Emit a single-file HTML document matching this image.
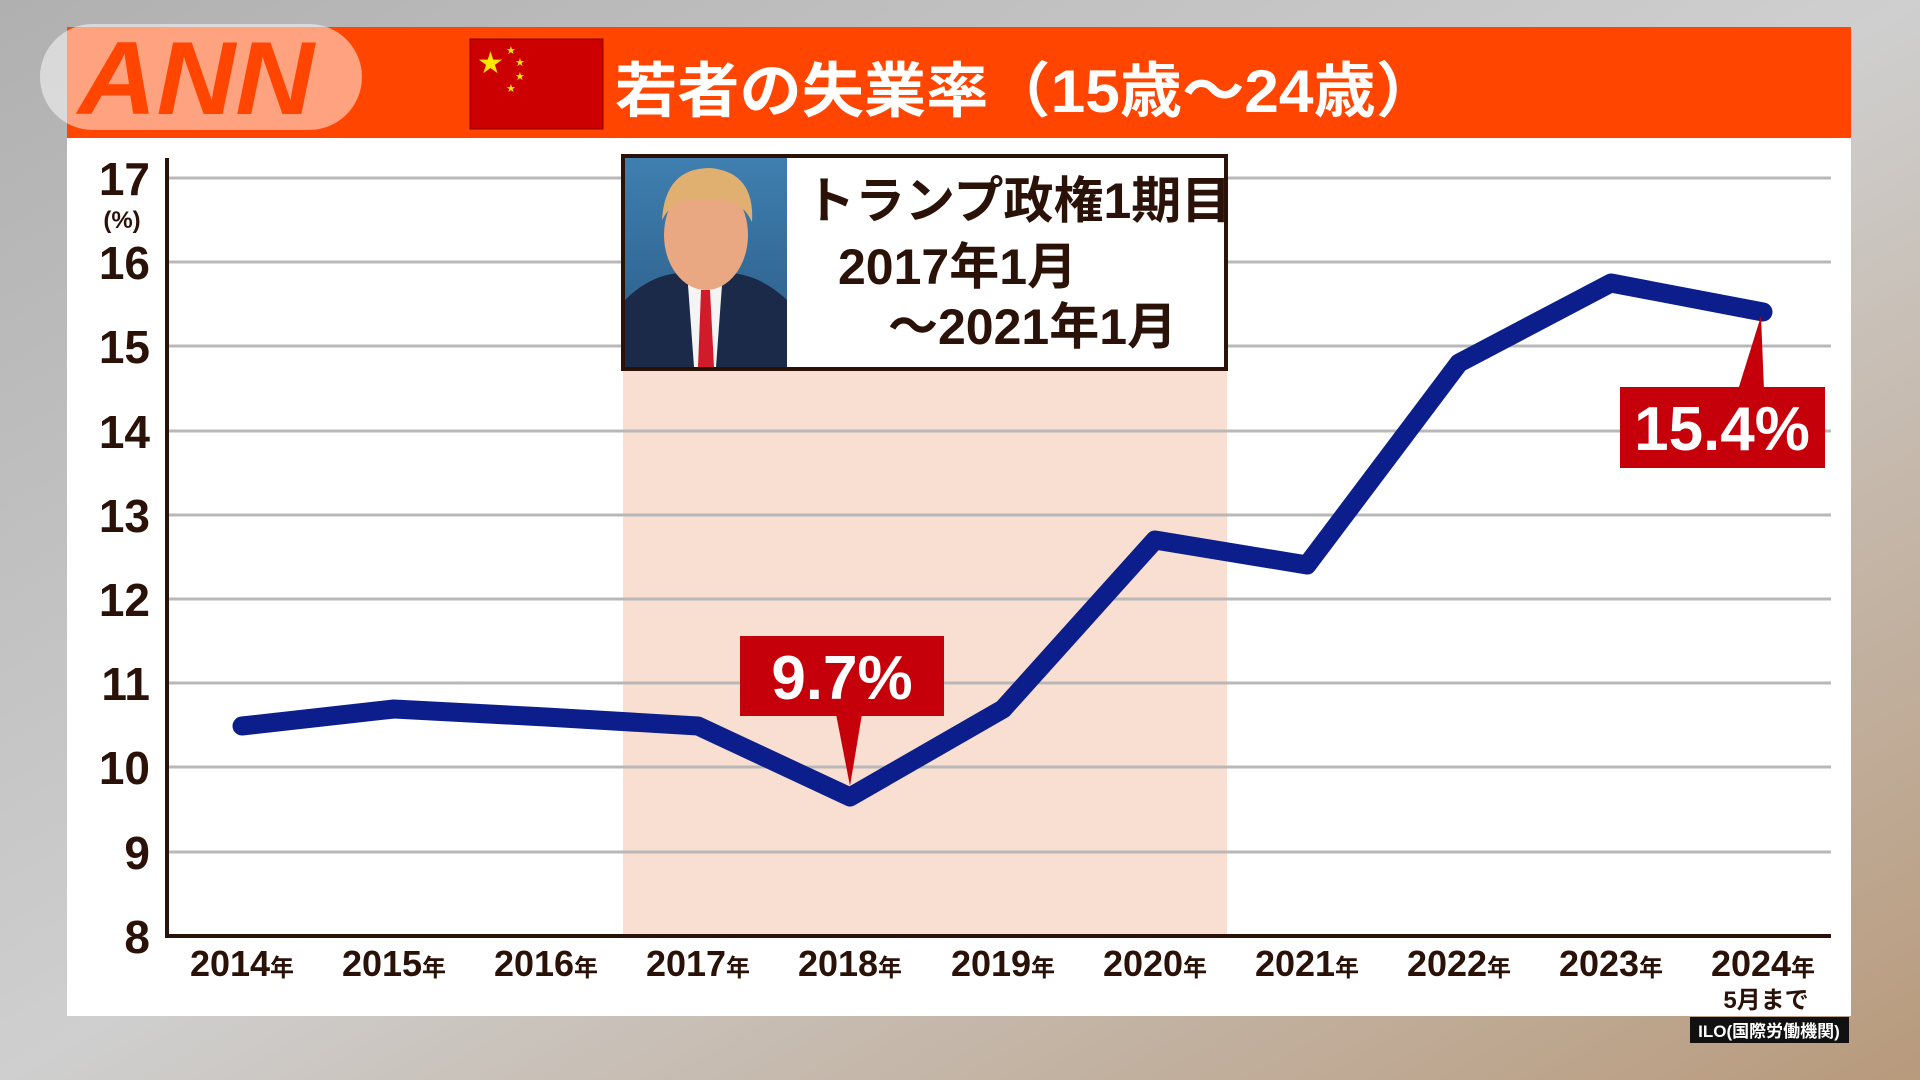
<!DOCTYPE html>
<html><head><meta charset="utf-8"><style>
html,body{margin:0;padding:0;width:1920px;height:1080px;overflow:hidden;background:#c9c9c9;}
svg{display:block}
text{font-family:"Liberation Sans Narrow","Liberation Sans","Noto Sans CJK JP",sans-serif;font-weight:bold;}
</style></head><body>
<svg width="1920" height="1080" viewBox="0 0 1920 1080" xmlns="http://www.w3.org/2000/svg">
<defs>
<linearGradient id="bg" x1="0" y1="0" x2="1" y2="1">
<stop offset="0" stop-color="#b0b0b0"/><stop offset="0.5" stop-color="#cfcfcf"/><stop offset="1" stop-color="#b89a7c"/>
</linearGradient>
<linearGradient id="suit" x1="0" y1="0" x2="0" y2="1"><stop offset="0" stop-color="#3f7fb0"/><stop offset="1" stop-color="#2a5a85"/></linearGradient>
</defs>
<rect width="1920" height="1080" fill="url(#bg)"/>
<rect x="67" y="137" width="1784" height="879" fill="#fff"/>
<rect x="67" y="27" width="1784" height="111" fill="#ff4500"/>
<rect x="40" y="24" width="322" height="106" rx="53" fill="#ffffff" fill-opacity="0.5"/>
<text x="78" y="114" font-size="104" font-style="italic" fill="#ff4500" textLength="236" lengthAdjust="spacingAndGlyphs" style="font-family:'Liberation Sans',sans-serif">ANN</text>
<rect x="470" y="39" width="133" height="90" fill="#cc0000" stroke="#8a0000" stroke-width="1"/>
<text x="477" y="73" font-size="30" fill="#ffe600" style="font-family:'DejaVu Sans',sans-serif">★</text>
<text x="506" y="54" font-size="11" fill="#ffe600" style="font-family:'DejaVu Sans',sans-serif">★</text>
<text x="515" y="66" font-size="11" fill="#ffe600" style="font-family:'DejaVu Sans',sans-serif">★</text>
<text x="515" y="80" font-size="11" fill="#ffe600" style="font-family:'DejaVu Sans',sans-serif">★</text>
<text x="506" y="92" font-size="11" fill="#ffe600" style="font-family:'DejaVu Sans',sans-serif">★</text>
<text x="615" y="112" font-size="60" fill="#fff" textLength="823" lengthAdjust="spacingAndGlyphs">若者の失業率（15歳〜24歳）</text>
<rect x="623" y="367" width="604" height="569" fill="#f9dfd2"/>
<g stroke="#b8b8b8" stroke-width="3">
<line x1="167" y1="178" x2="1831" y2="178"/>
<line x1="167" y1="262" x2="1831" y2="262"/>
<line x1="167" y1="346" x2="1831" y2="346"/>
<line x1="167" y1="431" x2="1831" y2="431"/>
<line x1="167" y1="515" x2="1831" y2="515"/>
<line x1="167" y1="599" x2="1831" y2="599"/>
<line x1="167" y1="683" x2="1831" y2="683"/>
<line x1="167" y1="767" x2="1831" y2="767"/>
<line x1="167" y1="852" x2="1831" y2="852"/>
</g>
<line x1="167" y1="158" x2="167" y2="938" stroke="#2a1208" stroke-width="4"/>
<line x1="165" y1="936" x2="1831" y2="936" stroke="#2a1208" stroke-width="4"/>
<g font-size="46" fill="#2a1208" text-anchor="end">
<text x="150" y="195">17</text>
<text x="150" y="279">16</text>
<text x="150" y="363">15</text>
<text x="150" y="448">14</text>
<text x="150" y="532">13</text>
<text x="150" y="616">12</text>
<text x="150" y="700">11</text>
<text x="150" y="784">10</text>
<text x="150" y="869">9</text>
<text x="150" y="953">8</text>
</g>
<text x="122" y="228" font-size="24" fill="#2a1208" text-anchor="middle">(%)</text>
<g font-size="36" fill="#2a1208" text-anchor="middle">
<text x="242" y="976">2014<tspan font-size="24">年</tspan></text>
<text x="394" y="976">2015<tspan font-size="24">年</tspan></text>
<text x="546" y="976">2016<tspan font-size="24">年</tspan></text>
<text x="698" y="976">2017<tspan font-size="24">年</tspan></text>
<text x="850" y="976">2018<tspan font-size="24">年</tspan></text>
<text x="1003" y="976">2019<tspan font-size="24">年</tspan></text>
<text x="1155" y="976">2020<tspan font-size="24">年</tspan></text>
<text x="1307" y="976">2021<tspan font-size="24">年</tspan></text>
<text x="1459" y="976">2022<tspan font-size="24">年</tspan></text>
<text x="1611" y="976">2023<tspan font-size="24">年</tspan></text>
<text x="1763" y="976">2024<tspan font-size="24">年</tspan></text>
</g>
<text x="1766" y="1008" font-size="24" fill="#2a1208" text-anchor="middle">5月まで</text>
<rect x="1690" y="1017" width="159" height="26" fill="#111"/>
<text x="1769" y="1037" font-size="17" fill="#fff" text-anchor="middle">ILO(国際労働機関)</text>
<polyline fill="none" stroke="#0c1e8c" stroke-width="19" stroke-linejoin="round" stroke-linecap="round"
points="242,726 394,709 546,717 698,726 850,797 1003,709 1155,540 1307,565 1459,363 1611,283 1763,312"/>
<polygon points="836,714 862,714 850,786" fill="#c5000b"/>
<rect x="740" y="636" width="204" height="80" fill="#c5000b"/>
<text x="842" y="699" font-size="62" fill="#fff" text-anchor="middle" style="font-family:'Liberation Sans',sans-serif">9.7%</text>
<polygon points="1738,390 1764,390 1761,316" fill="#c5000b"/>
<rect x="1620" y="387" width="205" height="81" fill="#c5000b"/>
<text x="1722" y="450" font-size="62" fill="#fff" text-anchor="middle" style="font-family:'Liberation Sans',sans-serif">15.4%</text>
<rect x="623" y="156" width="603" height="213" fill="#fff" stroke="#2a1208" stroke-width="4"/>
<rect x="625" y="158" width="162" height="209" fill="url(#suit)"/>
<path d="M625,300 Q660,265 705,275 Q750,265 787,300 L787,367 L625,367 Z" fill="#1c2a4a"/>
<path d="M688,285 L722,285 L716,367 L694,367 Z" fill="#f4f4f4"/>
<path d="M701,290 L710,290 L714,367 L698,367 Z" fill="#d21b2a"/>
<ellipse cx="706" cy="235" rx="42" ry="55" fill="#e9a782"/>
<path d="M662,220 Q665,168 710,168 Q755,172 752,222 Q740,195 705,200 Q675,195 662,220 Z" fill="#e0b070"/>
<text x="805" y="218" font-size="50" fill="#2a1208">トランプ政権1期目</text>
<text x="838" y="284" font-size="50" fill="#2a1208">2017年1月</text>
<text x="888" y="344" font-size="50" fill="#2a1208">〜2021年1月</text>
</svg>
</body></html>
